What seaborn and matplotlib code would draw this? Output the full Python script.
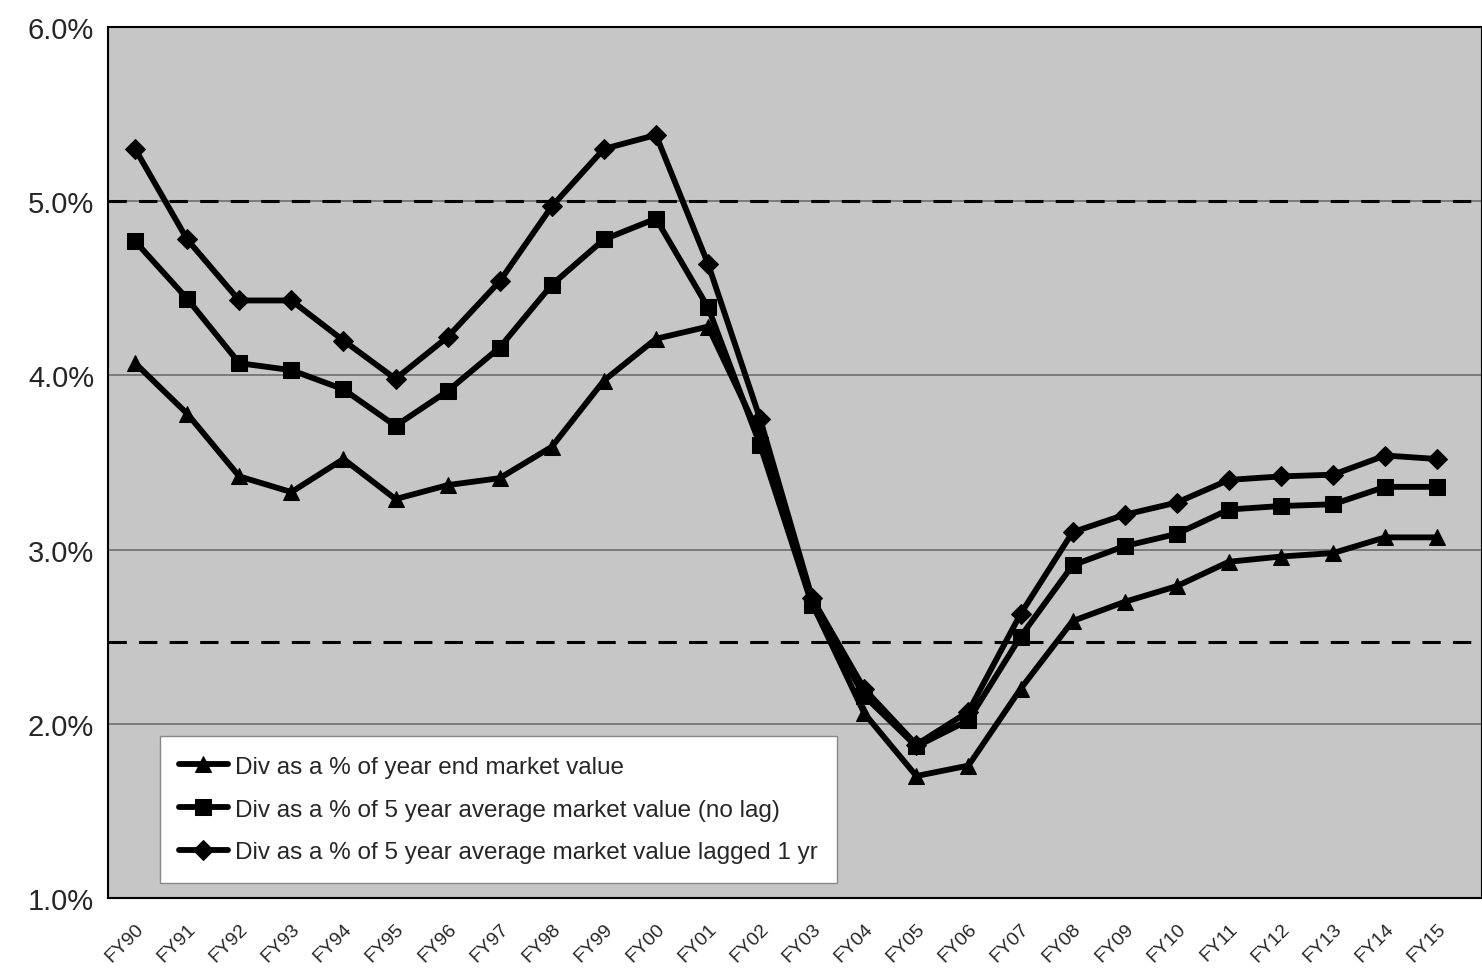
import numpy as np
import pandas as pd
import matplotlib
matplotlib.use("Agg")
import matplotlib.pyplot as plt
import seaborn as sns

# fiscal years on the x axis
years = ["FY90", "FY91", "FY92", "FY93", "FY94", "FY95", "FY96", "FY97", "FY98",
         "FY99", "FY00", "FY01", "FY02", "FY03", "FY04", "FY05", "FY06", "FY07",
         "FY08", "FY09", "FY10", "FY11", "FY12", "FY13", "FY14", "FY15"]

# dividend yield series (in %)
year_end = [4.07, 3.78, 3.42, 3.33, 3.52, 3.29, 3.37, 3.41, 3.59, 3.97, 4.21, 4.28, 3.65,
            2.69, 2.06, 1.70, 1.76, 2.20, 2.59, 2.70, 2.79, 2.93, 2.96, 2.98, 3.07, 3.07]
avg5_no_lag = [4.77, 4.44, 4.07, 4.03, 3.92, 3.71, 3.91, 4.16, 4.52, 4.78, 4.90, 4.39, 3.60,
               2.68, 2.16, 1.87, 2.02, 2.50, 2.91, 3.02, 3.09, 3.23, 3.25, 3.26, 3.36, 3.36]
avg5_lag1 = [5.30, 4.78, 4.43, 4.43, 4.20, 3.98, 4.22, 4.54, 4.97, 5.30, 5.38, 4.64, 3.75,
             2.72, 2.20, 1.88, 2.07, 2.63, 3.10, 3.20, 3.27, 3.40, 3.42, 3.43, 3.54, 3.52]

series_names = ["Div as a % of year end market value",
                "Div as a % of 5 year average market value (no lag)",
                "Div as a % of 5 year average market value lagged 1 yr"]
series_markers = ["^", "s", "D"]

# dashed reference levels
ref_levels = [5.0, 2.47]

y_ticks = [1.0, 2.0, 3.0, 4.0, 5.0, 6.0]

sns.set_style("white")
plt.rcParams["font.family"] = ["Liberation Sans", "DejaVu Sans"]

fig = plt.figure(figsize=(14.82, 9.78), dpi=100)
ax = fig.add_axes([0.0729, 0.0808, 0.9271, 0.8906])
ax.set_facecolor("#c6c6c6")

# solid grid lines
for yv in [2.0, 3.0, 4.0, 5.0]:
    ax.axhline(yv, color="#6e6e6e", lw=1.2, zorder=1)
for yv in ref_levels:
    ax.axhline(yv, color="black", lw=2.2, ls=(0, (6, 4)), zorder=2)

x = np.arange(len(years))
all_series = [year_end, avg5_no_lag, avg5_lag1]
sizes = [12, 12, 10]
for vals, name, mk, ms in zip(all_series, series_names, series_markers, sizes):
    df = pd.DataFrame({"x": x, "y": vals})
    sns.lineplot(data=df, x="x", y="y", ax=ax, color="black", lw=4.2, marker=mk,
                 markersize=ms, markeredgecolor="black", label=name, zorder=3)

ax.set_xlim(-0.52, 25.86)
ax.set_ylim(1.0, 6.0)
ax.set_yticks(y_ticks)
ax.set_yticklabels([f"{v:.1f}%" for v in y_ticks], fontsize=21)
ax.set_xticks(x)
ax.set_xticklabels(years, rotation=45, fontsize=14, ha="right", rotation_mode="anchor")
ax.tick_params(axis="x", length=4, pad=12)
ax.tick_params(axis="y", length=0, pad=10)
ax.set_xlabel("")
ax.set_ylabel("")

for s in ax.spines.values():
    s.set_color("black")
    s.set_linewidth(1.5)

leg = ax.legend(loc="lower left", bbox_to_anchor=(0.034, 0.012), fontsize=17.5,
                frameon=True, fancybox=False, edgecolor="#888888", handlelength=2.0,
                handletextpad=0.3, labelspacing=0.85, borderpad=0.8, borderaxespad=0.2)
leg.get_frame().set_facecolor("white")
leg.get_frame().set_alpha(1.0)

fig.savefig("out.png", dpi=100)
plt.close()
